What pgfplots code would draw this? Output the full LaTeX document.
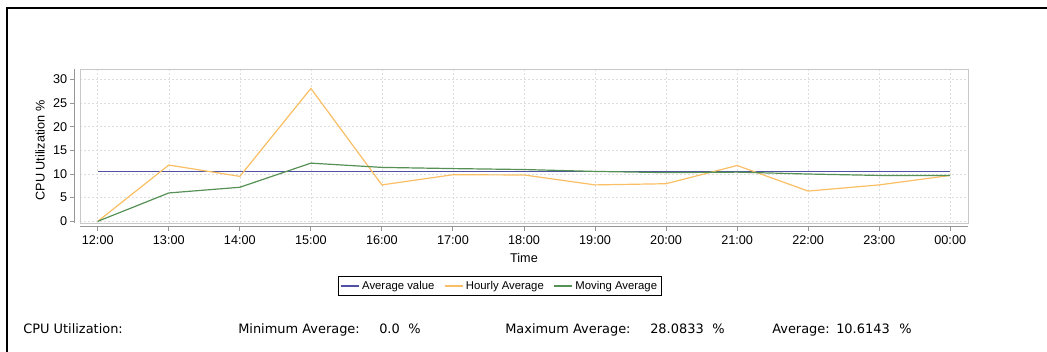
\documentclass[border=0pt]{standalone}
\usepackage{pgfplots}
\pgfplotsset{compat=1.18}
\usepackage{fontspec}
\setmainfont{Liberation Sans}
\newfontfamily\infofont{DejaVu Sans}
\definecolor{avgblue}{RGB}{80,80,165}
\definecolor{hourly}{RGB}{250,190,100}
\definecolor{moving}{RGB}{85,145,85}
\definecolor{boxgray}{RGB}{200,200,200}
\definecolor{axisgray}{RGB}{150,150,150}
\definecolor{gridgray}{RGB}{222,222,222}
\newlength\px
\setlength\px{0.75pt}

\begin{document}
\begin{tikzpicture}
\useasboundingbox (0,0) rectangle (1047\px,352\px);
% frame of the report panel
\draw[line width=2\px] (7\px,0) -- (7\px,344\px) -- (1047\px,344\px);

\begin{axis}[
    at={(80\px,129\px)}, anchor=south west,
    scale only axis, width=888\px, height=154\px,
    xmin=-0.25, xmax=12.25, ymin=-0.35, ymax=32.2,
    xtick={0,...,12},
    xticklabels={12:00,13:00,14:00,15:00,16:00,17:00,18:00,19:00,20:00,21:00,22:00,23:00,00:00},
    ytick={0,5,10,15,20,25,30},
    /pgf/number format/assume math mode=true,
    axis line style={boxgray},
    grid=major,
    major grid style={gridgray, dash pattern=on 2\px off 2\px},
    tick align=outside, xtick pos=left, ytick pos=left,
    major tick length=4\px,
    tick style={axisgray, line width=1\px},
    xtick style={yshift=-4\px},
    ytick style={xshift=-6\px},
    tick label style={font=\fontsize{9.5}{10}\selectfont},
    xticklabel style={yshift=-4\px},
    yticklabel style={xshift=-4\px},
    xlabel={Time},
    xlabel style={at={(axis description cs:0.5,-0.227)}, anchor=center, font=\fontsize{9.5}{10}\selectfont},
    ylabel={CPU Utilization \%},
    ylabel style={at={(axis description cs:-0.045,0.47)}, anchor=center, font=\fontsize{9.5}{10}\selectfont},
    clip=false,
    legend columns=3,
    legend style={at={(0.473,-0.409)}, anchor=center, draw=black, line width=0.8\px,
        font=\fontsize{8.5}{10}\selectfont, inner sep=2\px,
        /tikz/every even column/.append style={column sep=7\px}},
    legend image code/.code={\draw[#1] (0pt,0pt) -- (18\px,0pt);},
    every axis plot/.append style={line width=1.2\px},
]
% separate axis lines, offset from the plot box
\draw[axisgray, line width=1\px, yshift=-4\px] (rel axis cs:0,0) -- (rel axis cs:1,0);
\draw[axisgray, line width=1\px, xshift=-6\px] (rel axis cs:0,0) -- (rel axis cs:0,1);

\addplot[avgblue] coordinates {
    (0,10.6143) (1,10.6143) (2,10.6143) (3,10.6143) (4,10.6143) (5,10.6143) (6,10.6143)
    (7,10.6143) (8,10.6143) (9,10.6143) (10,10.6143) (11,10.6143) (12,10.6143)
};
\addlegendentry{Average value}

\addplot[hourly] coordinates {
    (0,0) (1,11.9) (2,9.5) (3,28.0833) (4,7.7) (5,9.85) (6,9.8)
    (7,7.7) (8,7.95) (9,11.8) (10,6.4) (11,7.7) (12,9.7)
};
\addlegendentry{Hourly Average}

\addplot[moving] coordinates {
    (0,0) (1,6.0) (2,7.2) (3,12.3) (4,11.4) (5,11.15) (6,10.95)
    (7,10.55) (8,10.3) (9,10.4) (10,10.0) (11,9.7) (12,9.7)
};
\addlegendentry{Moving Average}
\end{axis}

% summary line under the chart
\begin{scope}[every node/.style={anchor=base west, inner sep=0pt, font=\infofont\fontsize{9.7}{12}\selectfont}]
\node at (23\px,18\px) {CPU Utilization:};
\node at (238\px,18\px) {Minimum Average:};
\node at (379\px,18\px) {0.0};
\node at (408\px,18\px) {\%};
\node at (505\px,18\px) {Maximum Average:};
\node at (650\px,18\px) {28.0833};
\node at (712\px,18\px) {\%};
\node at (772\px,18\px) {Average:};
\node at (836\px,18\px) {10.6143};
\node at (899\px,18\px) {\%};
\end{scope}
\end{tikzpicture}
\end{document}
